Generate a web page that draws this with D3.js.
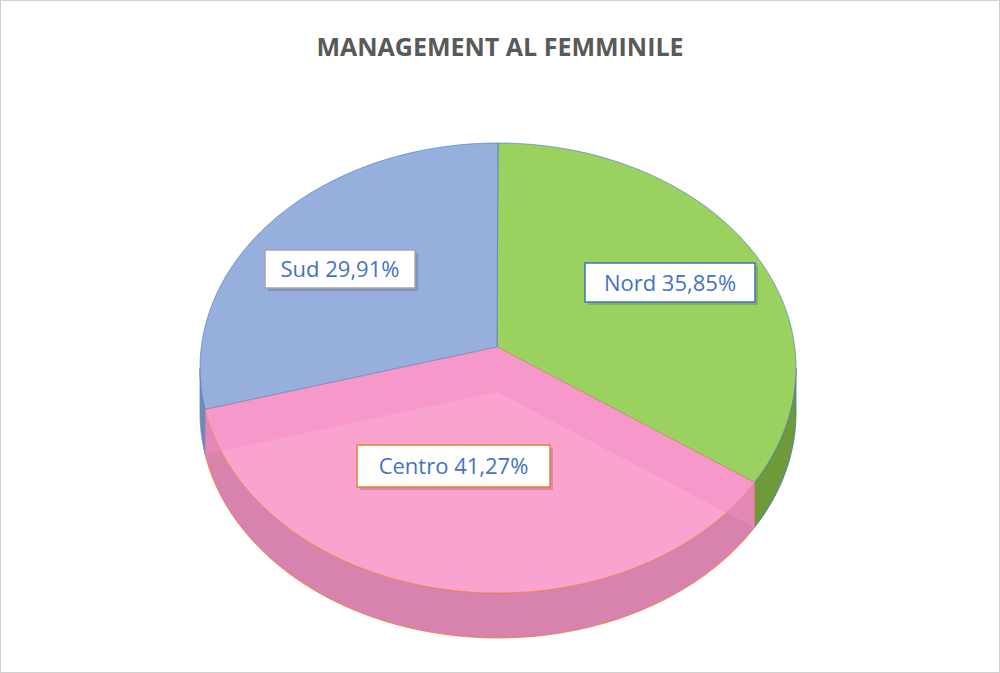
<!DOCTYPE html><html><head><meta charset="utf-8">
<script src="https://cdn.jsdelivr.net/npm/d3@7"></script>
<style>body{margin:0;background:#fff}</style></head><body>
<svg id="c" width="1000" height="673"></svg>
<script>
const categories=["Nord","Centro","Sud"];
const values=[35.85,41.27,29.91];
const labels=["Nord 35,85%","Centro 41,27%","Sud 29,91%"];
const colors=["#9bd25f","#fba3cf","#97afdc"];
const sideColors=["#6e9a3a","#d783ae","#7089b8"];
const borders=["#4472c4","#ed7d31","#a5a5a5"];

const svg=d3.select("#c");
svg.append("rect").attr("x",0.5).attr("y",0.5).attr("width",999).attr("height",672).attr("fill","#fff").attr("stroke","#d0d0d0");
svg.append("text").attr("x",500).attr("y",56).attr("text-anchor","middle").attr("font-family","Open Sans, sans-serif")
 .attr("font-weight","bold").attr("font-size",25).attr("fill","#595959").text("MANAGEMENT AL FEMMINILE");

const cx=498,cy=368,rx=298,ry=225,ax=497,ay=347,depth=45;
const pie=d3.pie().sort(null)(values);
const pt=(t,dy=0)=>[cx+rx*Math.sin(t),cy-ry*Math.cos(t)+dy];
function arcPts(a0,a1,dy=0){const n=80,p=[];for(let i=0;i<=n;i++)p.push(pt(a0+(a1-a0)*i/n,dy));return p;}
const line=d3.line();
// side walls (front part)
pie.forEach((d,i)=>{
  const a0=Math.max(d.startAngle,Math.PI/2),a1=Math.min(d.endAngle,3*Math.PI/2);
  if(a1<=a0)return;
  const top=arcPts(a0,a1),bot=arcPts(a0,a1,depth).reverse();
  svg.append("path").attr("d",line(top.concat(bot))+"Z").attr("fill",sideColors[i]).attr("stroke",borders[i]==="#a5a5a5"?"#7089b8":borders[i]).attr("stroke-width",0.8);
});
// top faces
pie.forEach((d,i)=>{
  const p=[[ax,ay]].concat(arcPts(d.startAngle,d.endAngle));
  svg.append("path").attr("d",line(p)+"Z").attr("fill",colors[i]).attr("stroke",i===1?"#ed7d31":"#4472c4").attr("stroke-width",0.6);
});
// inner Centro walls
const c=pie[1];
[c.startAngle,c.endAngle].forEach(a=>{
  const p=pt(a);
  const q=[[ax,ay],[ax,ay+depth],[p[0],p[1]+depth],p];
  svg.append("path").attr("d",line(q)+"Z").attr("fill","#f08cc0").attr("opacity",0.45);
});
// labels
const boxes=[[585,263,170,39],[357,445,193,42],[265,250,150,38]];
boxes.forEach((b,i)=>{
  svg.append("rect").attr("x",b[0]+3).attr("y",b[1]+3).attr("width",b[2]).attr("height",b[3]).attr("fill","#000").attr("opacity",0.15);
  svg.append("rect").attr("x",b[0]).attr("y",b[1]).attr("width",b[2]).attr("height",b[3]).attr("fill","#fff").attr("stroke",borders[i]).attr("stroke-width",1.5);
  svg.append("text").attr("x",b[0]+b[2]/2).attr("y",b[1]+b[3]/2+8).attr("text-anchor","middle").attr("font-family","Open Sans, sans-serif")
   .attr("font-size",22).attr("fill","#4472c4").text(labels[i]);
});
</script></body></html>
